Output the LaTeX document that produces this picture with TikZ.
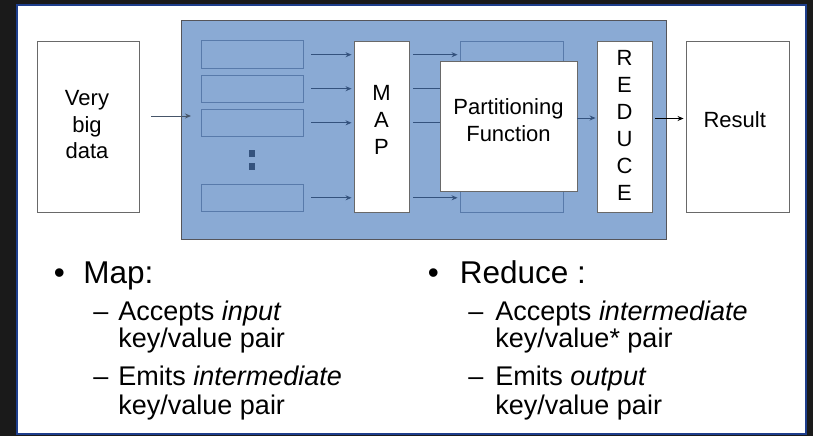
\documentclass[tikz,border=0pt]{standalone}
\usepackage{fontspec}
\setmainfont{Liberation Sans}
\usetikzlibrary{arrows.meta,positioning}
\definecolor{framedark}{RGB}{26,26,26}
\definecolor{frameblue}{RGB}{30,62,140}
\definecolor{areablue}{RGB}{138,170,212}
\definecolor{areaedge}{RGB}{85,85,90}
\definecolor{slotblue}{RGB}{88,122,170}
\definecolor{flowblue}{RGB}{52,82,125}
\definecolor{inflow}{RGB}{70,85,105}
\definecolor{boxgray}{RGB}{105,105,105}

\begin{document}
\begin{tikzpicture}[x=1pt, y=-1pt, line width=0.9pt,
  box/.style={draw=boxgray, fill=white, minimum height=171pt, inner sep=0pt},
  slot/.style={draw=slotblue, minimum width=102pt, minimum height=27.5pt, inner sep=0pt},
  box text/.style={align=center, inner sep=0pt, font=\fontsize{22}{26.8}\selectfont},
  flow/.style={draw=flowblue, -{Stealth[length=6pt,width=5pt]}},
  head/.style={anchor=base west, inner sep=0pt, font=\fontsize{31.5}{36}\selectfont},
  item/.style={anchor=base west, inner sep=0pt, font=\fontsize{27}{30}\selectfont}]
% slide frame
\fill[framedark] (0,0) rectangle (813,436);
\filldraw[fill=white, draw=frameblue, line width=2pt] (17,5) rectangle (806,434);

% input and blue area
\node[box, minimum width=102pt] (data) at (88,126.5) {};
\node[box text] (dataText) at (87,124.7) {Very\\big\\data};
\node[draw=areaedge, fill=areablue, minimum width=485pt, minimum height=219pt, inner sep=0pt] (area) at (423.5,129.5) {};
\coordinate (dataOut) at (151,116);
\coordinate (areaIn) at (191,116);
\draw[flow, draw=inflow] (dataOut) -- (areaIn);

\node[slot] (slot1) at (252,54.7) {};
\node[slot] (slot2) at (252,88.7) {};
\node[slot] (slot3) at (252,122.8) {};
\node[slot] (slot4) at (252,197.8) {};
\node[fill=flowblue, minimum size=6.5pt, inner sep=0pt] (dot1) at (252,153.3) {};
\node[fill=flowblue, minimum size=6.5pt, inner sep=0pt] (dot2) at (252,166.7) {};

\node[box, minimum width=55pt] (map) at (381.5,126.5) {};
\node[box text] (mapText) at (381.5,120) {M\\A\\P};

\draw[flow, shorten >=2pt] ([xshift=8pt]slot1.east) -- (slot1.east -| map.west);
\draw[flow, shorten >=2pt] ([xshift=8pt]slot2.east) -- (slot2.east -| map.west);
\draw[flow, shorten >=2pt] ([xshift=8pt]slot3.east) -- (slot3.east -| map.west);
\draw[flow, shorten >=2pt] ([xshift=8pt]slot4.east) -- (slot4.east -| map.west);

% partitioning
\node[slot, minimum width=103pt, minimum height=171pt] (shadow) at (511.5,126.5) {};
\draw[flow, shorten <=4pt, shorten >=2pt] (map.east |- slot1) -- (shadow.west |- slot1);
\draw[flow, shorten <=4pt, shorten >=2pt] (map.east |- slot2) -- (shadow.west |- slot2);
\draw[flow, shorten <=4pt, shorten >=2pt] (map.east |- slot3) -- (shadow.west |- slot3);
\draw[flow, shorten <=4pt, shorten >=2pt] (map.east |- slot4) -- (shadow.west |- slot4);
\node[box, minimum width=137pt, minimum height=130pt] (part) at (508.5,126) {};
\node[box text] (partText) at (508.5,120) {Partitioning\\Function};

% reduce and result
\node[box, minimum width=55pt] (reduce) at (624.5,126.5) {};
\node[box text, font=\fontsize{22}{27}\selectfont] (reduceText) at (624.5,125.8) {R\\E\\D\\U\\C\\E};
\coordinate (partOut) at ([yshift=8pt]part.east);
\draw[flow, shorten >=1pt] (partOut) -- (partOut -| reduce.west);

\node[box, minimum width=103pt] (result) at (737.5,126.5) {};
\node[box text] (resultText) at (734.7,119.2) {Result};
\coordinate (reduceOut) at ([yshift=8pt]reduce.east);
\draw[-{Stealth[length=6pt,width=5pt]}, shorten <=3pt, shorten >=2pt] (reduceOut) -- (reduceOut -| result.west);

% bullet text
\node[head] (mapBullet) at (53.4,283) {•};
\node[head] (mapHead) at (83,283) {Map:};
\node[item] (mapDashA) at (93,320) {–};
\node[item] (mapAccept) at (118,320) {Accepts \textit{input}};
\node[item] (mapAcceptKV) at (118,347.5) {key/value pair};
\node[item] (mapDashB) at (93,385.7) {–};
\node[item] (mapEmit) at (118,385.7) {Emits \textit{intermediate}};
\node[item] (mapEmitKV) at (118,414) {key/value pair};

\node[head] (redBullet) at (427.4,283) {•};
\node[head] (redHead) at (459.3,283) {Reduce :};
\node[item] (redDashA) at (468,320) {–};
\node[item] (redAccept) at (495,320) {Accepts \textit{intermediate}};
\node[item] (redAcceptKV) at (495,347.5) {key/value* pair};
\node[item] (redDashB) at (468,385.7) {–};
\node[item] (redEmit) at (495,385.7) {Emits \textit{output}};
\node[item] (redEmitKV) at (495,414) {key/value pair};
\end{tikzpicture}
\end{document}
